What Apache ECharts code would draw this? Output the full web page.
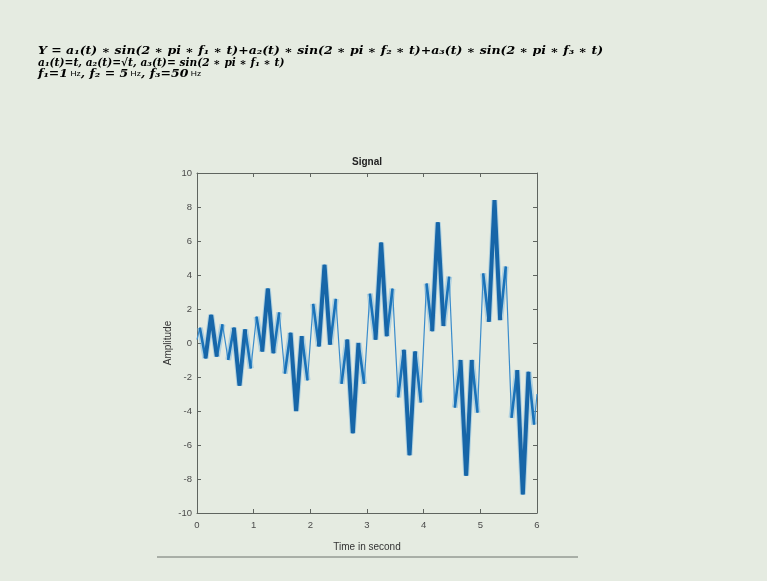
<!DOCTYPE html>
<html>
<head>
<meta charset="utf-8">
<script src="https://cdn.jsdelivr.net/npm/echarts@6/dist/echarts.min.js"></script>
<style>
  html, body { margin: 0; padding: 0; background: #e5ebe1; }
  #chart { width: 767px; height: 581px; }
</style>
</head>
<body>
<div id="chart"></div>
<script>
// readings taken off the plot: 5 Hz peaks / troughs of the signal
var timeSec = [
  0, 0.05, 0.15, 0.25, 0.35, 0.45, 0.55, 0.65, 0.75, 0.85, 0.95,
  1.05, 1.15, 1.25, 1.35, 1.45, 1.55, 1.65, 1.75, 1.85, 1.95,
  2.05, 2.15, 2.25, 2.35, 2.45, 2.55, 2.65, 2.75, 2.85, 2.95,
  3.05, 3.15, 3.25, 3.35, 3.45, 3.55, 3.65, 3.75, 3.85, 3.95,
  4.05, 4.15, 4.25, 4.35, 4.45, 4.55, 4.65, 4.75, 4.85, 4.95,
  5.05, 5.15, 5.25, 5.35, 5.45, 5.55, 5.65, 5.75, 5.85, 5.95, 6
];
var amplitude = [
  0.2, 0.9, -0.9, 1.65, -0.8, 1.1, -1.0, 0.9, -2.5, 0.8, -1.5,
  1.55, -0.5, 3.2, -0.6, 1.8, -1.8, 0.6, -4.0, 0.4, -2.2,
  2.3, -0.2, 4.6, -0.1, 2.6, -2.4, 0.2, -5.3, 0.0, -2.4,
  2.9, 0.2, 5.9, 0.4, 3.2, -3.2, -0.4, -6.6, -0.5, -3.5,
  3.5, 0.7, 7.1, 1.0, 3.9, -3.8, -1.0, -7.8, -1.0, -4.1,
  4.1, 1.25, 8.4, 1.35, 4.5, -4.4, -1.6, -8.9, -1.7, -4.8, -3.0
];
var xTicks = [0, 1, 2, 3, 4, 5, 6];
var yTicks = [-10, -8, -6, -4, -2, 0, 2, 4, 6, 8, 10];

var chart = echarts.init(document.getElementById("chart"));

// split the readings so the dense 50 Hz parts get a heavier stroke
var base = [], mid = [], thick = [];
var lastHalf = null;
for (var i = 0; i < timeSec.length; i++) {
  var t = timeSec[i], v = amplitude[i];
  base.push([t, v]);
  var r = Math.round(t * 100) % 50;
  var half = Math.floor(Math.round(t * 100) / 50);
  if (lastHalf !== null && half !== lastHalf) {
    mid.push([t, "-"]);
    thick.push([t, "-"]);
  }
  lastHalf = half;
  if (r >= 5 && r <= 45) mid.push([t, v]);
  if (r >= 10 && r <= 40) thick.push([t, v]);
  else thick.push([t, "-"]);
}

var blue = "#1a72b8";
var axisCol = "#5f645f";
var txt = "#333";
var mathFont = "DejaVu Serif";

function xAxisCommon(pos, showLabel) {
  return {
    type: "value",
    position: pos,
    min: xTicks[0],
    max: xTicks[xTicks.length - 1],
    interval: 1,
    axisLine: { show: true, onZero: false, lineStyle: { color: axisCol, width: 1 } },
    axisTick: { show: true, inside: true, length: 4, lineStyle: { color: axisCol } },
    splitLine: { show: false },
    axisLabel: { show: showLabel, color: "#4a4a4a", fontSize: 9.5, fontFamily: "Liberation Sans", margin: 7 }
  };
}

var xBottom = xAxisCommon("bottom", true);
xBottom.name = "Time in second";
xBottom.nameLocation = "middle";
xBottom.nameGap = 29;
xBottom.nameTextStyle = { color: txt, fontSize: 10, fontFamily: "Liberation Sans" };
var xTop = xAxisCommon("top", false);

function yAxisCommon(pos, showLabel) {
  return {
    type: "value",
    position: pos,
    min: yTicks[0],
    max: yTicks[yTicks.length - 1],
    interval: 2,
    axisLine: { show: true, onZero: false, lineStyle: { color: axisCol, width: 1 } },
    axisTick: { show: true, inside: true, length: 4, lineStyle: { color: axisCol } },
    splitLine: { show: false },
    axisLabel: { show: showLabel, color: "#4a4a4a", fontSize: 9.5, fontFamily: "Liberation Sans", margin: 5 }
  };
}
var yLeft = yAxisCommon("left", true);
yLeft.name = "Amplitude";
yLeft.nameLocation = "middle";
yLeft.nameGap = 24;
yLeft.nameTextStyle = { color: txt, fontSize: 10, fontFamily: "Liberation Sans" };
var yRight = yAxisCommon("right", false);

var rich = {
  m: { fontFamily: mathFont, fontStyle: "italic", fontWeight: "bold", fontSize: 12.5, color: "#2b2b2b" },
  h: { fontFamily: "Liberation Sans", fontSize: 8.5, color: "#2b2b2b" }
};

var option = {
  backgroundColor: "#e5ebe1",
  animation: false,
  grid: { left: 197, top: 173, width: 340, height: 340, containLabel: false },
  xAxis: [xBottom, xTop],
  yAxis: [yLeft, yRight],
  series: [
    {
      type: "line", data: mid, showSymbol: false, silent: true, connectNulls: false,
      lineStyle: { color: "#6fb2e0", width: 6, opacity: 0.45 }, z: 1
    },
    {
      type: "line", data: base, showSymbol: false, silent: true,
      lineStyle: { color: "#3a8ccc", width: 1.2 }, z: 2
    },
    {
      type: "line", data: mid, showSymbol: false, silent: true, connectNulls: false,
      lineStyle: { color: blue, width: 2.6 }, z: 3
    },
    {
      type: "line", data: thick, showSymbol: false, silent: true, connectNulls: false,
      lineStyle: { color: "#1766a8", width: 4 }, z: 4
    }
  ],
  graphic: [
    {
      type: "text", x: 38, y: 51, scaleY: 0.86,
      style: {
        text: "{m|Y = a₁(t) ∗ sin(2 ∗ pi ∗ f₁ ∗ t)+a₂(t) ∗ sin(2 ∗ pi ∗ f₂ ∗ t)+a₃(t) ∗ sin(2 ∗ pi ∗ f₃ ∗ t)}",
        verticalAlign: "middle",
        rich: rich
      }
    },
    {
      type: "text", x: 38, y: 63, scaleX: 0.85, scaleY: 0.86,
      style: {
        text: "{m|a₁(t)=t, a₂(t)=√t, a₃(t)= sin(2 ∗ pi ∗ f₁ ∗ t)}",
        verticalAlign: "middle",
        rich: rich
      }
    },
    {
      type: "text", x: 38, y: 74, scaleY: 0.86,
      style: {
        text: "{m|f₁=1}{h| Hz}{m|, f₂ = 5}{h| Hz}{m|, f₃=50}{h| Hz}",
        verticalAlign: "middle",
        rich: rich
      }
    },
    {
      type: "text", x: 367, y: 157,
      style: {
        text: "Signal", textAlign: "center", fontFamily: "Liberation Sans",
        fontWeight: "bold", fontSize: 10, fill: "#222"
      }
    },
    {
      type: "line",
      shape: { x1: 157, y1: 557, x2: 578, y2: 557 },
      style: { stroke: "#6d726d", lineWidth: 1 }
    }
  ]
};

chart.setOption(option);
window.addEventListener("resize", function() {
  chart.resize();
});
</script>
</body>
</html>
